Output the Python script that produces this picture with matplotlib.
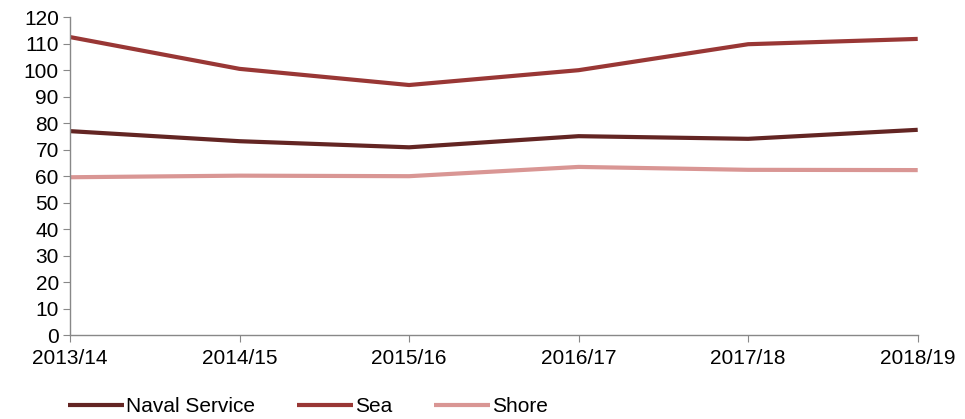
import matplotlib.pyplot as plt

plt.rcParams['font.family'] = ['Liberation Sans', 'DejaVu Sans']

years = ['2013/14', '2014/15', '2015/16', '2016/17', '2017/18', '2018/19']
naval = [77.0, 73.2, 70.9, 75.1, 74.1, 77.5]
sea = [112.5, 100.5, 94.4, 100.0, 109.8, 111.8]
shore = [59.6, 60.2, 60.0, 63.5, 62.4, 62.3]

fig = plt.figure(figsize=(9.65, 4.19), dpi=100)
ax = fig.add_axes([0.0725, 0.2, 0.8785, 0.759])

x = range(len(years))
ax.plot(x, naval, color='#632523', lw=3, label='Naval Service', solid_capstyle='butt')
ax.plot(x, sea, color='#993735', lw=3, label='Sea', solid_capstyle='butt')
ax.plot(x, shore, color='#d99694', lw=3, label='Shore', solid_capstyle='butt')

ax.set_xlim(0, len(years) - 1)
ax.set_ylim(0, 120)
ax.set_yticks(range(0, 121, 10))
ax.set_xticks(list(x))
ax.set_xticklabels(years)

for s in ['top', 'right']:
    ax.spines[s].set_visible(False)
for s in ['left', 'bottom']:
    ax.spines[s].set_color('#888888')
    ax.spines[s].set_linewidth(1)
ax.tick_params(colors='#888888', labelcolor='black', labelsize=15, length=5, direction='out')
ax.tick_params(axis='x', pad=5)
ax.tick_params(axis='y', pad=3)

ax.legend(loc='upper left', bbox_to_anchor=(-0.025, -0.135), ncol=3, frameon=False,
          fontsize=15, handlelength=2.7, handletextpad=0.1, columnspacing=2.0)

fig.savefig('out.png', dpi=100)
